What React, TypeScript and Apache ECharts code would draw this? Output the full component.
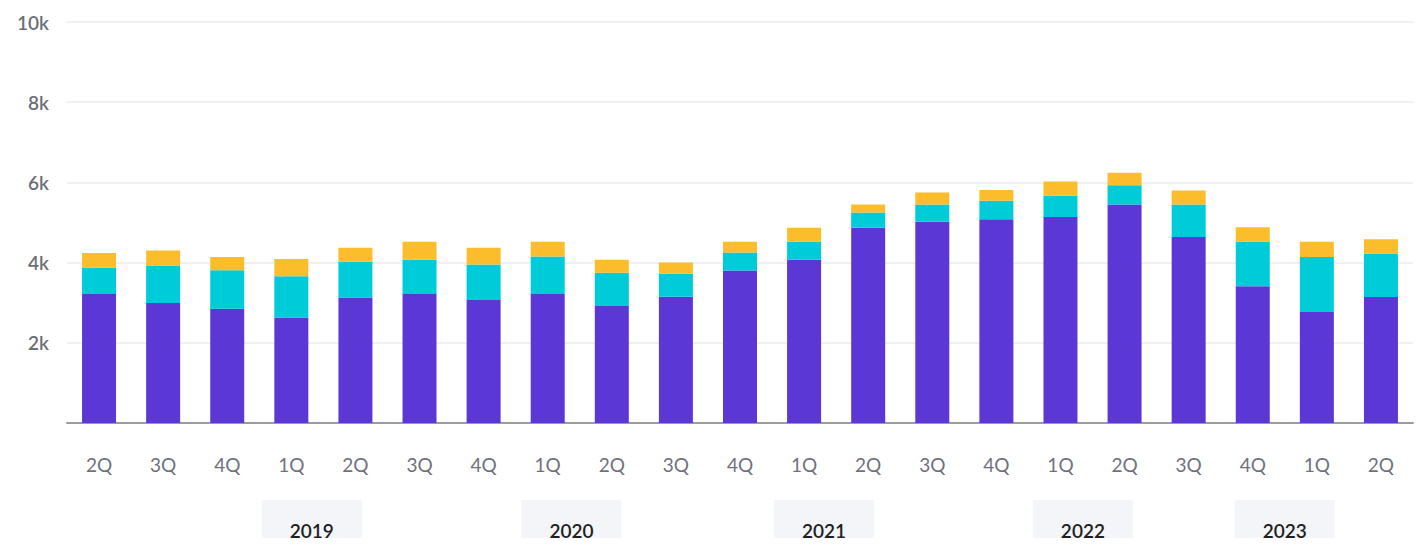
import React, { useEffect, useRef } from "react";
import * as echarts from "echarts";

const quarters = ["2Q","3Q","4Q","1Q","2Q","3Q","4Q","1Q","2Q","3Q","4Q","1Q","2Q","3Q","4Q","1Q","2Q","3Q","4Q","1Q","2Q"];
// stacked totals (thousands)
const purpleTop = [3.22,2.99,2.85,2.63,3.13,3.22,3.07,3.22,2.92,3.15,3.80,4.07,4.87,5.02,5.08,5.14,5.45,4.64,3.41,2.77,3.14];
const cyanTop   = [3.87,3.93,3.81,3.66,4.02,4.07,3.95,4.15,3.75,3.72,4.25,4.52,5.25,5.45,5.54,5.67,5.93,5.45,4.52,4.14,4.23];
const yellowTop = [4.24,4.30,4.14,4.09,4.37,4.52,4.37,4.52,4.07,4.00,4.52,4.87,5.45,5.75,5.81,6.02,6.24,5.80,4.88,4.52,4.58];

const seriesA = purpleTop.map((v) => Math.round(v * 1000));
const seriesB = cyanTop.map((v, i) => Math.round((v - purpleTop[i]) * 1000));
const seriesC = yellowTop.map((v, i) => Math.round((v - cyanTop[i]) * 1000));

const yearLabels = ["2019", "2020", "2021", "2022", "2023"];
const yearPositions = [3.32, 7.37, 11.31, 15.35, 18.5]; // in category index units

const FONT = "Lato, 'Noto Sans', sans-serif";

export default function App() {
  const ref = useRef<HTMLDivElement>(null);
  useEffect(() => {
    if (!ref.current) return;
    const chart = echarts.init(ref.current, undefined, { renderer: "svg" });
    const option: any = {
      animation: false,
      grid: { left: 67, right: 11, top: 22, bottom: 123 },
      xAxis: {
        type: "category",
        data: quarters,
        axisLine: { lineStyle: { color: "#9a9ca3", width: 2 } },
        axisTick: { show: false },
        axisLabel: { color: "#6e717b", fontSize: 19, fontFamily: FONT, margin: 32 },
      },
      yAxis: {
        type: "value",
        min: 0,
        max: 10000,
        interval: 2000,
        axisLine: { show: false },
        axisTick: { show: false },
        splitLine: { lineStyle: { color: "#eff0f4", width: 2 } },
        axisLabel: {
          color: "#6b6e78",
          fontSize: 19,
          fontWeight: 600,
          fontFamily: FONT,
          margin: 18,
          formatter: (v: number) => (v === 0 ? "" : v / 1000 + "k"),
        },
      },
      series: [
        { type: "bar", stack: "s", data: seriesA, barWidth: 34, itemStyle: { color: "#5b38d5" } },
        { type: "bar", stack: "s", data: seriesB, barWidth: 34, itemStyle: { color: "#00cbd8" } },
        { type: "bar", stack: "s", data: seriesC, barWidth: 34, itemStyle: { color: "#fbbd2c" } },
      ],
    };
    chart.setOption(option);
    const p0 = chart.convertToPixel({ xAxisIndex: 0 }, 0) as number;
    const p1 = chart.convertToPixel({ xAxisIndex: 0 }, 1) as number;
    const step = p1 - p0;
    const graphics = yearLabels.map((label, i) => {
      const cx = p0 + yearPositions[i] * step;
      return {
        type: "group",
        x: cx,
        y: 500,
        children: [
          { type: "rect", shape: { x: -50, y: 0, width: 100, height: 50 }, style: { fill: "#f4f5f8" } },
          {
            type: "text",
            x: 0,
            y: 30,
            style: {
              text: label,
              fill: "#1e1f23",
              font: `600 19px ${FONT}`,
              align: "center",
              verticalAlign: "middle",
            },
          },
        ],
      };
    });
    chart.setOption({ graphic: graphics });
    return () => chart.dispose();
  }, []);
  return <div ref={ref} style={{ width: 1424, height: 546, margin: -8 }} />;
}
